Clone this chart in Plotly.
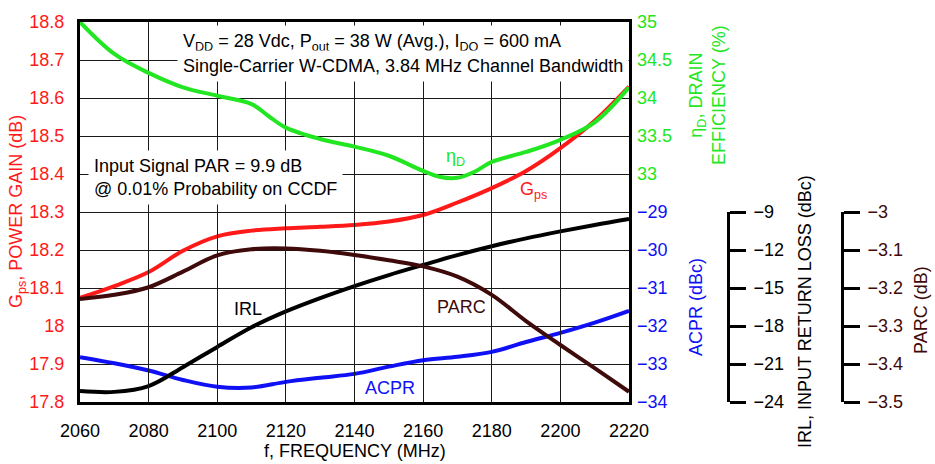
import plotly.graph_objects as go

# ---------------- data ----------------
freq = [2060, 2070, 2080, 2090, 2100, 2110, 2120, 2130, 2140, 2150,
        2160, 2170, 2180, 2190, 2200, 2210, 2220]
gps = [18.074, 18.105, 18.142, 18.198, 18.236, 18.251, 18.257, 18.261, 18.266,
       18.275, 18.292, 18.325, 18.363, 18.408, 18.468, 18.540, 18.630]
freq_eff = [2060, 2070, 2080, 2090, 2100, 2110, 2115, 2120, 2130, 2140, 2150,
            2160, 2165, 2170, 2175, 2180, 2190, 2200, 2210, 2220]
eff = [35.00, 34.58, 34.33, 34.14, 34.03, 33.92, 33.76, 33.61, 33.46, 33.36, 33.24,
       33.04, 32.96, 32.95, 33.03, 33.16, 33.29, 33.45, 33.68, 34.14]
acpr = [-32.82, -32.98, -33.17, -33.42, -33.60, -33.62, -33.47, -33.36, -33.26,
        -33.07, -32.90, -32.81, -32.68, -32.42, -32.18, -31.91, -31.60]
irl = [-23.13, -23.20, -22.74, -21.25, -19.65, -18.10, -16.85, -15.80, -14.85,
       -13.98, -13.18, -12.40, -11.70, -11.08, -10.53, -10.02, -9.55]
parc = [-3.229, -3.218, -3.198, -3.157, -3.114, -3.098, -3.096, -3.102, -3.113,
        -3.127, -3.143, -3.170, -3.218, -3.287, -3.350, -3.411, -3.473]

x_ticks = [2060, 2080, 2100, 2120, 2140, 2160, 2180, 2200, 2220]
gps_ticks = [17.8, 17.9, 18.0, 18.1, 18.2, 18.3, 18.4, 18.5, 18.6, 18.7, 18.8]
gps_text = ["17.8", "17.9", "18", "18.1", "18.2", "18.3", "18.4", "18.5", "18.6", "18.7", "18.8"]
eff_ticks = [33, 33.5, 34, 34.5, 35]
eff_text = ["33", "33.5", "34", "34.5", "35"]
acpr_ticks = [-34, -33, -32, -31, -30, -29]
acpr_text = ["\u221234", "\u221233", "\u221232", "\u221231", "\u221230", "\u221229"]
irl_ticks = [-24, -21, -18, -15, -12, -9]
irl_text = ["\u221224", "\u221221", "\u221218", "\u221215", "\u221212", "\u22129"]
parc_ticks = [-3.5, -3.4, -3.3, -3.2, -3.1, -3.0]
parc_text = ["\u22123.5", "\u22123.4", "\u22123.3", "\u22123.2", "\u22123.1", "\u22123"]

# ---------------- style ----------------
FONT = "Liberation Sans, Arial, sans-serif"
FS = 18
RED = "#ff1a1a"
GREEN = "#22e622"
BLUE = "#1010f5"
BLACK = "#000000"
MAROON = "#3f0a0a"

W, H = 935, 464
ML, MR, MT, MB = 80, 10, 22, 62
PW = W - ML - MR
PH = H - MT - MB


def xp(px):
    return (px - ML) / PW


def yp(py):
    return (H - MB - py) / PH


fig = go.Figure()
fig.add_trace(go.Scatter(x=freq, y=irl, yaxis="y4", mode="lines",
                         line=dict(color=BLACK, width=4, shape="spline")))
fig.add_trace(go.Scatter(x=freq, y=parc, yaxis="y5", mode="lines",
                         line=dict(color=MAROON, width=4, shape="spline")))
fig.add_trace(go.Scatter(x=freq, y=acpr, yaxis="y3", mode="lines",
                         line=dict(color=BLUE, width=4, shape="spline")))
fig.add_trace(go.Scatter(x=freq, y=gps, yaxis="y", mode="lines",
                         line=dict(color=RED, width=4, shape="spline")))
fig.add_trace(go.Scatter(x=freq_eff, y=eff, yaxis="y2", mode="lines",
                         line=dict(color=GREEN, width=4, shape="spline")))

x_dom_end = (629 - ML) / PW

fig.update_layout(
    width=W, height=H,
    margin=dict(l=ML, r=MR, t=MT, b=MB, pad=0, autoexpand=False),
    paper_bgcolor="white", plot_bgcolor="rgba(0,0,0,0)",
    showlegend=False,
    font=dict(family=FONT, size=FS, color=BLACK),
    xaxis=dict(domain=[0, x_dom_end], range=[2060, 2220], tickvals=x_ticks,
               ticktext=[str(v) for v in x_ticks],
               showgrid=True, gridcolor="#1a1a1a", gridwidth=1.3,
               showline=True, linecolor=BLACK, linewidth=3, mirror=True,
               ticks="", ticklabelstandoff=10, zeroline=False,
               tickfont=dict(color=BLACK, size=FS)),
    yaxis=dict(range=[17.8, 18.8], tickvals=gps_ticks, ticktext=gps_text,
               showgrid=True, gridcolor="#1a1a1a", gridwidth=1.3,
               showline=True, linecolor=BLACK, linewidth=3, mirror=True,
               ticks="", ticklabelstandoff=9, zeroline=False,
               tickfont=dict(color=RED, size=FS)),
    yaxis2=dict(range=[30, 35], overlaying="y", side="right", anchor="x",
                tickvals=eff_ticks, ticktext=eff_text, showgrid=False,
                zeroline=False, ticks="", ticklabelstandoff=7,
                tickfont=dict(color=GREEN, size=FS)),
    yaxis3=dict(range=[-34, -24], overlaying="y", side="right", anchor="x",
                tickvals=acpr_ticks, ticktext=acpr_text, showgrid=False,
                zeroline=False, ticks="", ticklabelstandoff=7,
                tickfont=dict(color=BLUE, size=FS)),
    yaxis4=dict(domain=[0, 0.5], range=[-24, -9], anchor="free",
                position=xp(728), side="right", tickvals=irl_ticks,
                ticktext=irl_text, showgrid=False, zeroline=False,
                showline=True, linecolor=BLACK, linewidth=3,
                ticks="outside", ticklen=16, tickwidth=3, tickcolor=BLACK,
                ticklabelstandoff=4,
                tickfont=dict(color=BLACK, size=FS)),
    yaxis5=dict(domain=[0, 0.5], range=[-3.5, -3.0], anchor="free",
                position=xp(842), side="right", tickvals=parc_ticks,
                ticktext=parc_text, showgrid=False, zeroline=False,
                showline=True, linecolor=BLACK, linewidth=3,
                ticks="outside", ticklen=16, tickwidth=3, tickcolor=BLACK,
                ticklabelstandoff=4,
                tickfont=dict(color=MAROON, size=FS)),
)


def label(text, px, py, color, angle=0, xanchor="center", **kw):
    return dict(text=text, xref="paper", yref="paper", x=xp(px), y=yp(py),
                xanchor=xanchor, yanchor="middle", textangle=angle,
                showarrow=False, font=dict(family=FONT, color=color, size=FS), **kw)


ann = [
    # axis titles
    label("G<sub>ps</sub>, POWER GAIN (dB)", 17, 212, RED, -90),
    label("f, FREQUENCY (MHz)", 355, 451, BLACK),
    label("\u03b7<sub>D</sub>, DRAIN<br>EFFICIENCY (%)", 707, 95, GREEN, -90),
    label("ACPR (dBc)", 696, 307, BLUE, -90),
    label("IRL, INPUT RETURN LOSS (dBc)", 805, 312, BLACK, -90),
    label("PARC (dB)", 921, 310, MAROON, -90),
    # info boxes
    label("V<sub>DD</sub> = 28 Vdc, P<sub>out</sub> = 38 W (Avg.), I<sub>DQ</sub> = 600 mA",
          177, 42, BLACK, xanchor="left", bgcolor="white", borderpad=5),
    label("Single\u2011Carrier W\u2011CDMA, 3.84 MHz Channel Bandwidth",
          177, 66, BLACK, xanchor="left", bgcolor="white", borderpad=5),
    label("Input Signal PAR = 9.9 dB<br>@ 0.01% Probability on CCDF",
          88, 177, BLACK, xanchor="left", align="left", bgcolor="white", borderpad=5),
    # curve labels
    label("IRL", 248, 309, BLACK),
    label("PARC", 461, 307, MAROON),
    label("ACPR", 390, 388, BLUE),
    label("\u03b7<sub>D</sub>", 455, 157, GREEN),
    label("G<sub>ps</sub>", 533, 190, RED),
]
fig.update_layout(annotations=ann)

fig.write_html("out.html", config={"displayModeBar": False},
               post_script="document.body.style.margin='0';")
